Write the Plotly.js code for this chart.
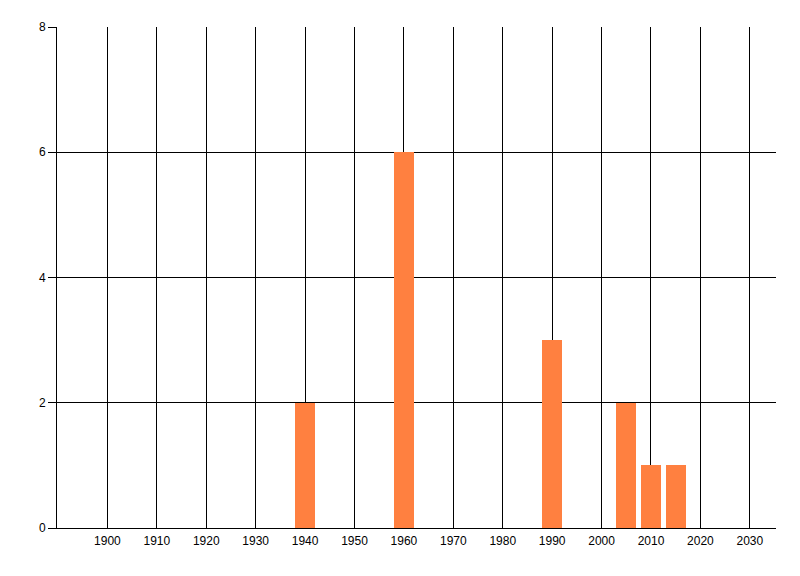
<!DOCTYPE html>
<html>
<head>
<meta charset="utf-8">
<script src="https://cdn.plot.ly/plotly-3.0.1.min.js"></script>
<style>html,body{margin:0;padding:0;background:#fff;}#chart{width:800px;height:576px;}</style>
</head>
<body>
<div id="chart"></div>
<script>
const years = [1940, 1960, 1990, 2005, 2010, 2015];
const counts = [2, 6, 3, 2, 1, 1];
const xTicks = [1900, 1910, 1920, 1930, 1940, 1950, 1960, 1970, 1980, 1990, 2000, 2010, 2020, 2030];
const yTicks = [0, 2, 4, 6, 8];

const trace = {
  type: 'bar',
  x: years,
  y: counts,
  width: 4,
  marker: {color: 'rgb(255,128,64)', line: {width: 0}},
  hoverinfo: 'x+y'
};

const layout = {
  width: 800, height: 576,
  margin: {l: 57, r: 24, t: 27, b: 48, pad: 0},
  paper_bgcolor: '#fff', plot_bgcolor: '#fff',
  showlegend: false,
  bargap: 0,
  font: {family: 'Liberation Sans Narrow, Liberation Sans, Arial, sans-serif', size: 12, color: '#000'},
  xaxis: {
    range: [1889.8, 2035.3],
    tickmode: 'array', tickvals: xTicks, ticktext: xTicks.map(String),
    showgrid: true, gridcolor: '#000', gridwidth: 1,
    showline: true, linecolor: '#000', linewidth: 1,
    ticks: 'outside', ticklen: 2, tickcolor: 'rgba(0,0,0,0)',
    zeroline: false,
    tickfont: {size: 12, color: '#000'}
  },
  yaxis: {
    range: [0, 8],
    tickmode: 'array', tickvals: yTicks, ticktext: yTicks.map(String),
    showgrid: true, gridcolor: '#000', gridwidth: 1,
    showline: true, linecolor: '#000', linewidth: 1,
    ticks: 'outside', ticklen: 8, tickcolor: '#000', tickwidth: 1,
    zeroline: false,
    tickfont: {size: 12, color: '#000'}
  }
};

Plotly.newPlot('chart', [trace], layout, {displayModeBar: false, staticPlot: true});
</script>
</body>
</html>
